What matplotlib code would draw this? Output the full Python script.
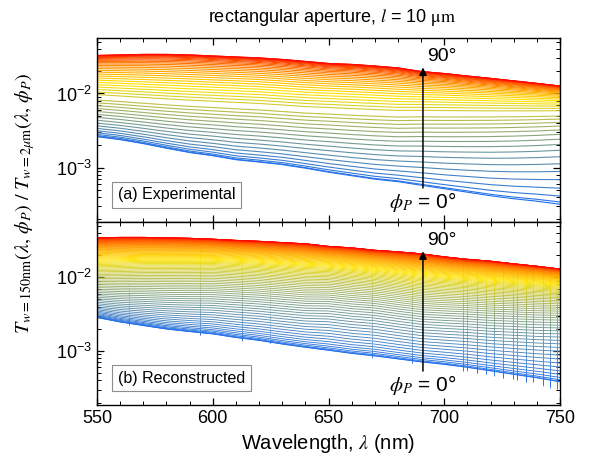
import numpy as np
import matplotlib
matplotlib.use("Agg")
import matplotlib.pyplot as plt
from matplotlib.colors import LinearSegmentedColormap
from matplotlib.collections import LineCollection

plt.rcParams["font.family"] = ["Liberation Sans", "DejaVu Sans"]
plt.rcParams["mathtext.fontset"] = "stix"

wl = [550, 560, 570, 580, 590, 600, 610, 620, 630, 640, 650,
      660, 670, 680, 690, 700, 710, 720, 730, 740, 750]

# (a) experimental ratio: 0 deg, 45 deg (yellow) and 90 deg curves
exp_t0 = [2.62e-3, 2.39e-3, 2.11e-3, 1.83e-3, 1.60e-3, 1.45e-3, 1.28e-3, 1.19e-3, 1.10e-3, 9.84e-4, 8.69e-4,
          7.79e-4, 6.99e-4, 6.47e-4, 5.80e-4, 5.20e-4, 4.67e-4, 4.18e-4, 3.81e-4, 3.53e-4, 3.21e-4]
exp_t45 = [1.365e-2, 1.323e-2, 1.283e-2, 1.243e-2, 1.205e-2, 1.168e-2, 1.133e-2, 1.098e-2, 1.048e-2, 1.000e-2, 9.69e-3,
           9.40e-3, 9.11e-3, 8.83e-3, 8.69e-3, 8.56e-3, 8.40e-3, 8.25e-3, 8.10e-3, 7.95e-3, 7.80e-3]
exp_t90 = [3.26e-2, 3.31e-2, 3.37e-2, 3.37e-2, 3.31e-2, 3.21e-2, 3.11e-2, 3.02e-2, 2.88e-2, 2.71e-2, 2.54e-2,
           2.47e-2, 2.35e-2, 2.21e-2, 1.98e-2, 1.86e-2, 1.72e-2, 1.60e-2, 1.48e-2, 1.37e-2, 1.26e-2]
exp_angles = [0, 2, 4, 6, 8, 10, 12, 14, 16, 18, 20, 22, 24, 26, 28, 30, 32, 36, 38, 40, 42, 44,
              46, 48, 50, 52, 54, 56, 58, 60, 62, 64, 66, 68, 70, 72, 74, 76, 78, 80, 82, 84, 86, 88, 90]

# (b) reconstructed ratio
rec_t0 = [2.84e-3, 2.47e-3, 2.21e-3, 1.98e-3, 1.83e-3, 1.70e-3, 1.52e-3, 1.39e-3, 1.24e-3, 1.12e-3, 1.02e-3,
          9.25e-4, 8.56e-4, 7.79e-4, 7.10e-4, 6.57e-4, 5.98e-4, 5.37e-4, 4.81e-4, 4.32e-4, 3.81e-4]
rec_t45 = [1.697e-2, 1.724e-2, 1.750e-2, 1.750e-2, 1.750e-2, 1.750e-2, 1.697e-2, 1.645e-2, 1.570e-2, 1.499e-2, 1.453e-2,
           1.365e-2, 1.283e-2, 1.187e-2, 1.098e-2, 1.032e-2, 9.85e-3, 9.40e-3, 8.97e-3, 8.56e-3, 8.17e-3]
rec_t90 = [3.42e-2, 3.47e-2, 3.47e-2, 3.42e-2, 3.37e-2, 3.28e-2, 3.16e-2, 3.07e-2, 2.95e-2, 2.84e-2, 2.62e-2,
           2.50e-2, 2.32e-2, 2.21e-2, 2.08e-2, 1.89e-2, 1.75e-2, 1.65e-2, 1.52e-2, 1.41e-2, 1.29e-2]
rec_angles = list(range(0, 91))

# narrow dips seen in the reconstructed spectra
spike_wl = [564, 594.5, 612.5, 624.7, 669, 686, 708, 709.7, 714, 718, 721.5, 725.5,
            729.6, 731.6, 735.3, 738.2, 742.5, 745.7, 748.6]
spike_depth = [0.04, 0.07, 0.07, 0.04, 0.06, 0.08, 0.12, 0.10, 0.13, 0.12, 0.13, 0.15,
               0.14, 0.15, 0.17, 0.15, 0.19, 0.21, 0.22]

cmap = LinearSegmentedColormap.from_list("byr", ["#1e6ef0", "#ffe400", "#ff0a00"])


def mix(t0, t45, t90, phi):
    t0, t45, t90 = map(np.asarray, (t0, t45, t90))
    r = (t45 - t0) / (t90 - t45)
    s2 = np.sin(np.radians(phi)) ** 2
    w = r * s2 / ((1 - s2) + r * s2)
    return t0 + (t90 - t0) * w, w


fig = plt.figure(figsize=(5.89, 4.61), dpi=100)
L, W = 97 / 589, 463 / 589
ax1 = fig.add_axes([L, 1 - 222 / 461, W, 184 / 461])
ax2 = fig.add_axes([L, 1 - 405 / 461, W, 183 / 461])

for phi in exp_angles:
    y, _ = mix(exp_t0, exp_t45, exp_t90, phi)
    ax1.plot(wl, y, color=cmap(phi / 90), lw=0.8)

segs, cols = [], []
for phi in rec_angles:
    y, w = mix(rec_t0, rec_t45, rec_t90, phi)
    c = cmap(phi / 90)
    ax2.plot(wl, y, color=c, lw=0.65)
    ly = np.interp(spike_wl, wl, np.log10(y))
    for sx, sy, d in zip(spike_wl, ly, spike_depth):
        dd = d * (1 - np.mean(w)) ** 1.5
        segs.append([(sx, 10 ** sy), (sx, 10 ** sy * (1 - dd))])
        cols.append(c)
ax2.add_collection(LineCollection(segs, colors=cols, linewidths=0.5))

for ax, lab in ((ax1, "(a) Experimental"), (ax2, "(b) Reconstructed")):
    ax.set_yscale("log")
    ax.set_xlim(550, 750)
    ax.set_ylim(1.85e-4, 5.6e-2)
    ax.set_xticks([550, 600, 650, 700, 750])
    ax.set_xticks(range(550, 751, 10), minor=True)
    ax.tick_params(which="both", direction="in", top=True, right=True, labelsize=13)
    ax.tick_params(which="major", length=5, width=0.9)
    ax.tick_params(which="minor", length=3, width=0.7)
    for s in ax.spines.values():
        s.set_linewidth(1.0)
    ax.text(0.045, 0.147, lab, transform=ax.transAxes, fontsize=11.5, ha="left", va="center",
            bbox=dict(boxstyle="square,pad=0.35", fc="white", ec="0.55", lw=0.8))
    ax.annotate("", xy=(0.704, 0.855), xytext=(0.704, 0.17), xycoords="axes fraction",
                arrowprops=dict(arrowstyle="-|>", color="k", lw=1.1, mutation_scale=11))
    ax.text(0.712, 0.9, "90°", transform=ax.transAxes, fontsize=14, ha="left", va="center")
    ax.text(0.704, 0.11, r"$\phi_P$ = 0°", transform=ax.transAxes, fontsize=15, ha="center", va="center")

ax1.tick_params(labelbottom=False)
ax2.set_xlabel(r"Wavelength, $\lambda$ (nm)", fontsize=14.5, labelpad=4)

fig.text(0.042, 0.56, r"$T_{w=150\mathrm{nm}}(\lambda,\,\phi_P)\ /\ T_{w=2\mu\mathrm{m}}(\lambda,\,\phi_P)$",
         rotation=90, ha="center", va="center", fontsize=14.5)
fig.text(0.564, 0.963, r"rectangular aperture, $l$ = 10 $\mathrm{\mu m}$", ha="center", va="center", fontsize=13)

fig.savefig("out.png", dpi=100)
